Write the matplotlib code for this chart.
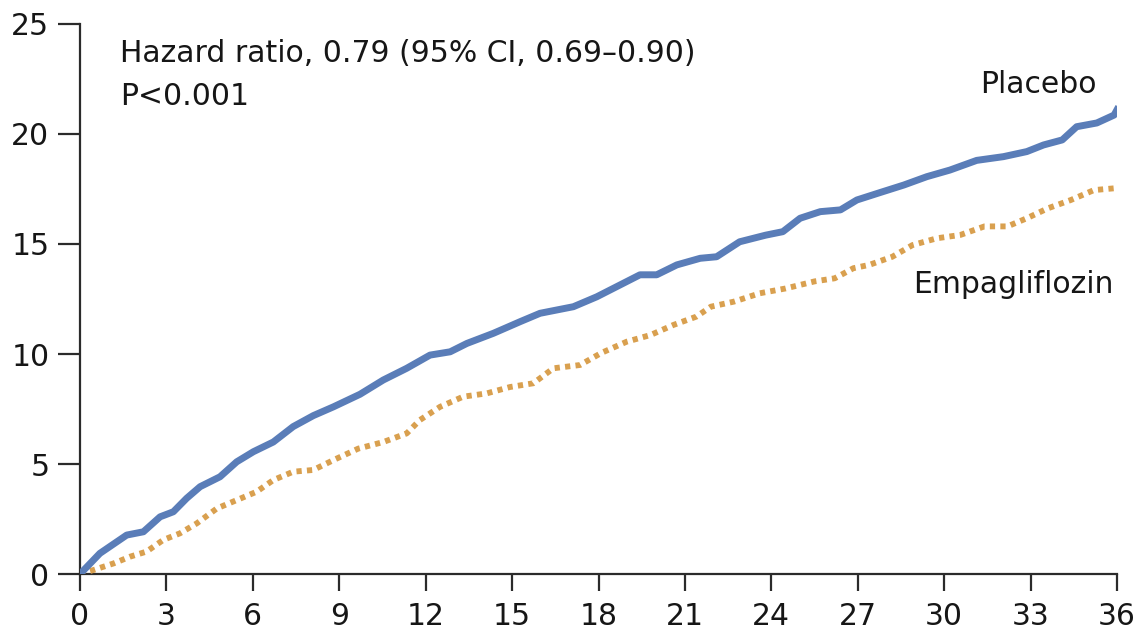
import numpy as np
import matplotlib.pyplot as plt

plt.rcParams['font.family'] = ['DejaVu Sans']

# months since randomization, cumulative incidence (%)
placebo_t = [0, 0.69, 1.62, 2.2, 2.78, 3.24, 3.7, 4.17, 4.86, 5.44, 6.02, 6.71,
             7.4, 8.1, 8.8, 9.72, 10.53, 11.34, 12.15, 12.85, 13.43, 14.35,
             15.28, 15.97, 17.13, 17.94, 18.75, 19.44, 20.02, 20.72, 21.53,
             22.1, 22.9, 23.8, 24.4, 25.0, 25.7, 26.4, 26.97, 27.78, 28.6,
             29.4, 30.2, 31.13, 32.06, 32.87, 33.45, 34.1, 34.6, 35.3, 35.9, 36.0]
placebo_y = [0, 0.94, 1.77, 1.92, 2.6, 2.83, 3.44, 3.97, 4.42, 5.1, 5.56, 6.0,
             6.7, 7.2, 7.6, 8.17, 8.82, 9.35, 9.95, 10.1, 10.48, 10.94,
             11.47, 11.85, 12.15, 12.6, 13.14, 13.6, 13.6, 14.05, 14.35,
             14.42, 15.1, 15.4, 15.56, 16.17, 16.47, 16.55, 17.0, 17.34, 17.68,
             18.06, 18.36, 18.8, 18.97, 19.2, 19.5, 19.73, 20.33, 20.5, 20.86, 21.1]

empa_t = [0, 0.46, 1.16, 1.74, 2.31, 2.89, 3.47, 4.05, 4.75, 5.44, 6.13, 6.71,
          7.4, 8.1, 8.8, 9.66, 10.53, 11.34, 11.8, 12.5, 13.3, 14.12, 14.93,
          15.74, 16.43, 17.36, 18.1, 18.98, 19.8, 20.6, 21.4, 21.9, 22.7,
          23.6, 24.5, 25.5, 26.2, 26.85, 27.4, 28.2, 28.9, 29.75, 30.56, 31.4,
          32.2, 32.87, 33.6, 34.4, 35.2, 35.9]
empa_y = [0, 0.18, 0.48, 0.79, 1.02, 1.55, 1.85, 2.3, 2.98, 3.36, 3.74, 4.27,
          4.65, 4.73, 5.18, 5.7, 6.0, 6.39, 7.0, 7.6, 8.06, 8.21, 8.5,
          8.67, 9.35, 9.5, 10.05, 10.56, 10.86, 11.32, 11.7, 12.15, 12.38,
          12.76, 12.98, 13.3, 13.44, 13.9, 14.05, 14.42, 14.95, 15.26, 15.41, 15.8,
          15.8, 16.17, 16.62, 17.0, 17.45, 17.53]

x_ticks = list(range(0, 37, 3))
y_ticks = [0, 5, 10, 15, 20, 25]

blue = '#5a7db8'
orange = '#d9a04f'
dark = '#2b2b2b'
txt = '#161616'

fig = plt.figure(figsize=(11.4, 6.34), dpi=100)
ax = fig.add_axes([0.0702, 0.0946, 0.9096, 0.8676])

ax.plot(empa_t, empa_y, color=orange, lw=4.2, linestyle=(0, (0.9, 0.9)),
        dash_capstyle='butt', zorder=3)
ax.plot(placebo_t, placebo_y, color=blue, lw=5, solid_joinstyle='round', zorder=4)

ax.set_xlim(0, 36)
ax.set_ylim(0, 25)
ax.set_xticks(x_ticks)
ax.set_yticks(y_ticks)

for side in ['top', 'right']:
    ax.spines[side].set_visible(False)
for side in ['left', 'bottom']:
    ax.spines[side].set_color(dark)
    ax.spines[side].set_linewidth(1.6)

ax.tick_params(axis='both', colors=dark, width=1.6, labelsize=21.5, labelcolor=txt)
ax.tick_params(axis='x', length=12, pad=8)
ax.tick_params(axis='y', length=16, pad=6)

fs = 21.5
ax.text(1.4, 23.29, 'Hazard ratio, 0.79 (95% CI, 0.69\u20130.90)',
        fontsize=fs, color=txt, va='baseline', ha='left')
ax.text(1.4, 21.32, 'P<0.001', fontsize=fs, color=txt, va='baseline', ha='left')
ax.text(35.31, 21.85, 'Placebo', fontsize=fs, color=txt, ha='right', va='baseline')
ax.text(35.87, 12.76, 'Empagliflozin', fontsize=fs, color=txt, ha='right', va='baseline')

fig.savefig('out.png', dpi=100)
